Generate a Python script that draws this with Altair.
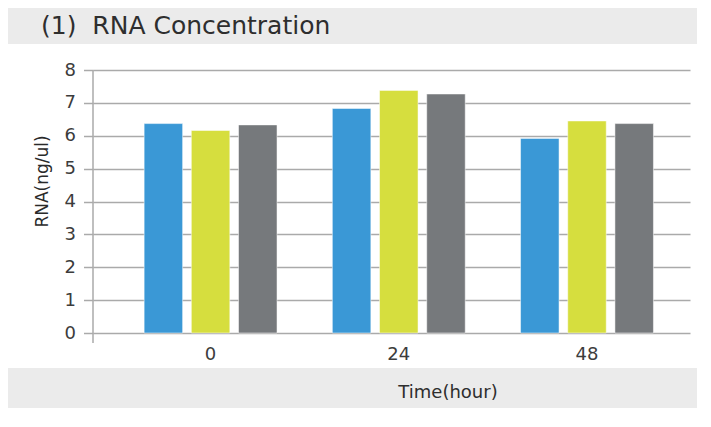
import altair as alt
import pandas as pd

# ---- data ----
times = ["0", "24", "48"]
series = ["Sample 1", "Sample 2", "Sample 3"]
series1 = [6.37, 6.83, 5.92]
series2 = [6.16, 7.38, 6.45]
series3 = [6.33, 7.27, 6.37]
colors = ["#3a98d6", "#d6de3e", "#76797c"]
y_ticks = [0, 1, 2, 3, 4, 5, 6, 7, 8]
title_text = "(1)\u00a0\u00a0RNA Concentration"
x_title = "Time(hour)"
y_title = "RNA(ng/ul)"

vals = [series1, series2, series3]
rows = []
for s, v in zip(series, vals):
    for t, val in zip(times, v):
        rows.append({"time": t, "series": s, "value": val})
df = pd.DataFrame(rows)

W, H = 597, 263
FONT = "DejaVu Sans"
GRID = "#aaaaaa"
BAND = "#ebebeb"

one = pd.DataFrame({"k": [0]})

top_band = alt.Chart(one).mark_rect(color=BAND).encode(
    x=alt.value(-85), x2=alt.value(604), y=alt.value(-62), y2=alt.value(-26)
)
bottom_band = alt.Chart(one).mark_rect(color=BAND).encode(
    x=alt.value(-85), x2=alt.value(604), y=alt.value(298), y2=alt.value(338)
)

bars = alt.Chart(df).mark_bar(stroke="white", strokeWidth=1, strokeOpacity=0.5).encode(
    x=alt.X(
        "time:N",
        sort=times,
        scale=alt.Scale(paddingInner=0, paddingOuter=0.086, align=0.725),
        axis=alt.Axis(
            title=None, labelAngle=0, labelFont=FONT, labelFontSize=18,
            labelColor="#3c3c3c", labelBaseline="alphabetic", labelPadding=26,
            ticks=False, domain=False, grid=False,
        ),
    ),
    xOffset=alt.XOffset(
        "series:N", sort=series,
        scale=alt.Scale(paddingInner=0.184, paddingOuter=0.586),
    ),
    y=alt.Y(
        "value:Q",
        scale=alt.Scale(domain=[0, 8], nice=False),
        axis=alt.Axis(
            values=y_ticks, title=y_title, domain=False,
            ticks=True, tickColor=GRID, tickSize=9.5, tickWidth=1.5,
            grid=True, gridColor=GRID, gridWidth=1.5,
            labelFont=FONT, labelFontSize=18, labelColor="#3c3c3c", labelPadding=8,
            titleFont=FONT, titleFontSize=17, titleFontWeight="normal", titleColor="#2a2a2a",
            titleAngle=270, titleX=-51, titleY=111, titleAlign="center", titleBaseline="middle",
        ),
    ),
    color=alt.Color("series:N", sort=series,
                    scale=alt.Scale(domain=series, range=colors), legend=None),
)

axis_line = alt.Chart(one).mark_rule(color=GRID, strokeWidth=1.5).encode(
    x=alt.value(0), y=alt.value(0), y2=alt.value(273)
)

title = alt.Chart(pd.DataFrame({"t": [title_text]})).mark_text(
    align="left", baseline="alphabetic", font=FONT, fontSize=25, color="#2e2e2e"
).encode(x=alt.value(-52), y=alt.value(-36), text="t:N")

xtitle = alt.Chart(pd.DataFrame({"t": [x_title]})).mark_text(
    align="center", baseline="alphabetic", font=FONT, fontSize=18, color="#2e2e2e"
).encode(x=alt.value(355), y=alt.value(328), text="t:N")

chart = alt.layer(top_band, bottom_band, bars, axis_line, title, xtitle).properties(
    width=W, height=H,
    padding={"left": 85, "top": 62, "right": 13, "bottom": 86},
    autosize="none",
).configure_view(stroke=None)

chart.save("out.html", embed_options={"renderer": "svg", "actions": False})
